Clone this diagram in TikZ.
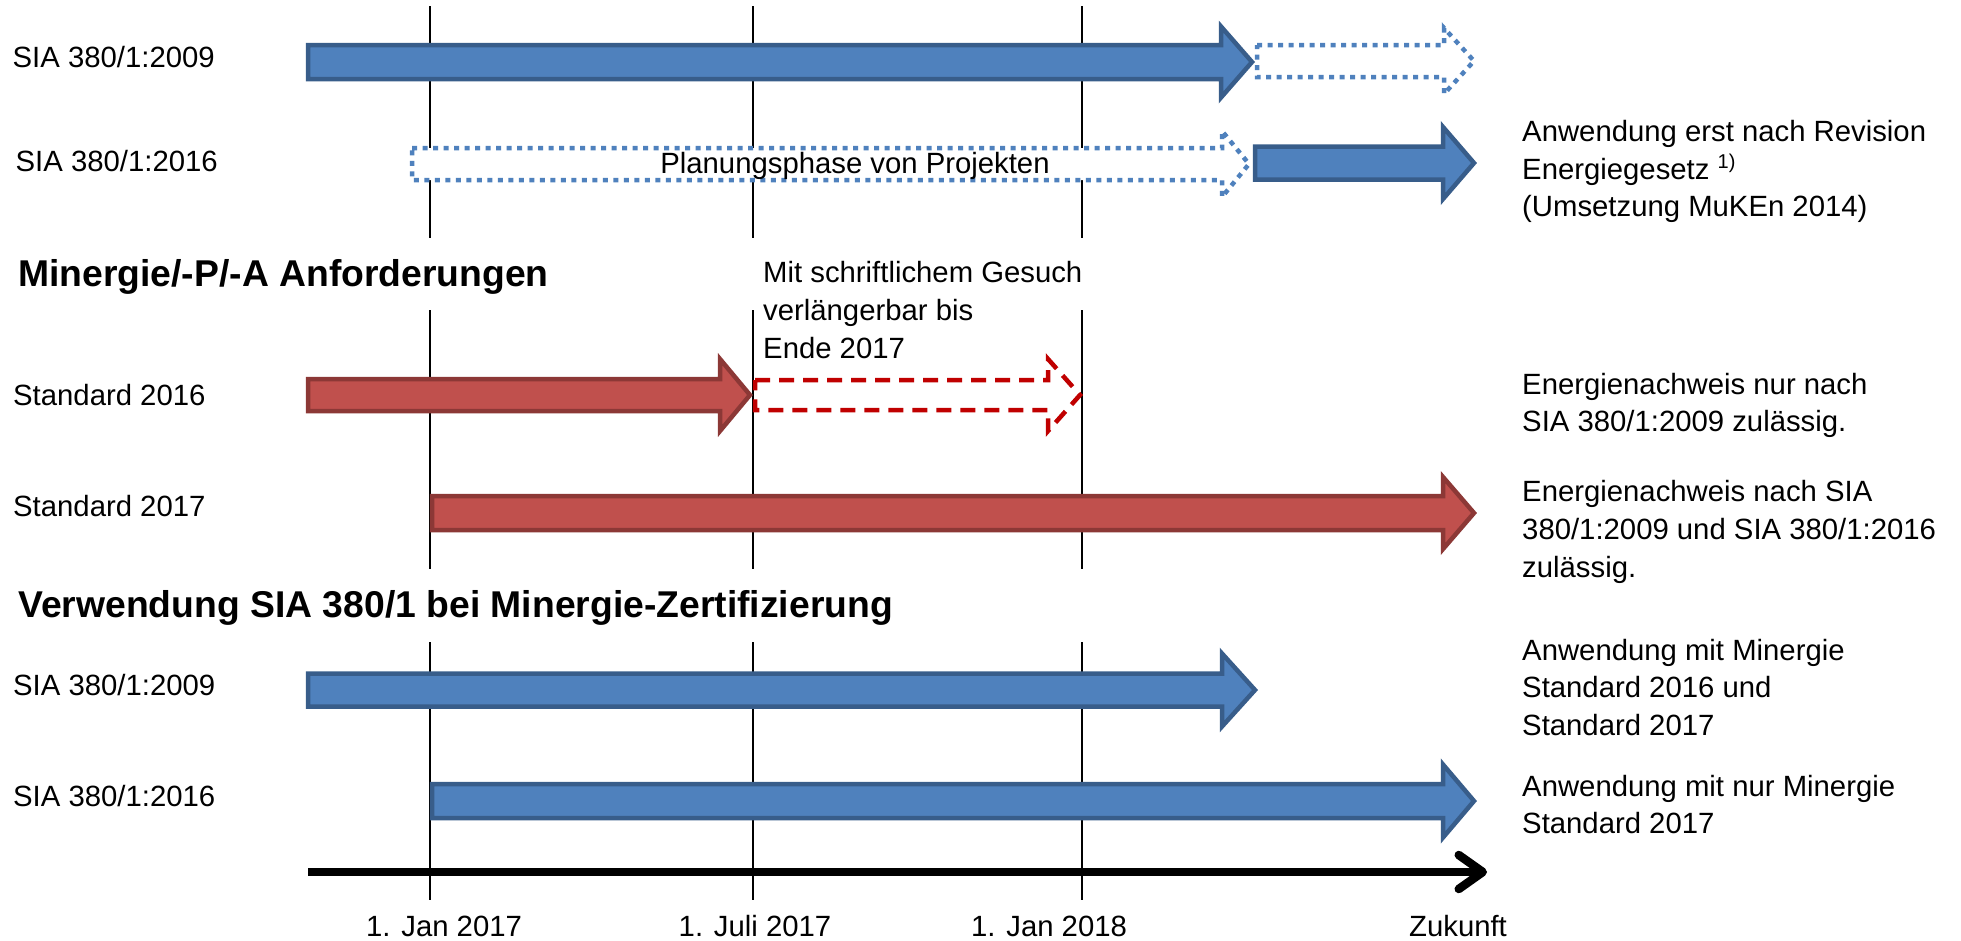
\documentclass[tikz,border=0pt]{standalone}
\usepackage{fontspec}
\setmainfont{Liberation Sans}
\usetikzlibrary{arrows.meta}
\definecolor{bfill}{HTML}{4F81BD}
\definecolor{bline}{HTML}{385D8A}
\definecolor{rfill}{HTML}{C0504D}
\definecolor{rline}{HTML}{8C3836}
\definecolor{rdash}{HTML}{C00000}
\newcommand\tlarrow[7]{\draw[#1] (#2,{#5-#6}) -- (#3,{#5-#6}) -- (#3,{#5-#7}) -- (#4,#5) -- (#3,{#5+#7}) -- (#3,{#5+#6}) -- (#2,{#5+#6}) -- cycle;}
\begin{document}
\begin{tikzpicture}[x=1pt,y=-1pt,
  lbl/.style={font=\fontsize{29.3}{37.5}\selectfont, inner sep=0pt, anchor=base west},
  datelbl/.style={font=\fontsize{29.3}{37.5}\selectfont, inner sep=0pt, anchor=base},
  hd/.style={font=\fontsize{37.3}{44}\selectfont\bfseries, inner sep=0pt, anchor=base west},
  bluearrow/.style={fill=bfill, draw=bline, line width=4.5pt, line join=miter},
  redarrow/.style={fill=rfill, draw=rline, line width=4.5pt, line join=miter},
  dotarrow/.style={fill=white, draw=bfill, line width=4.5pt, dash pattern=on 5pt off 5.5pt},
  dasharrow/.style={fill=white, draw=rdash, line width=4.5pt, dash pattern=on 15pt off 9pt},
  vline/.style={draw=black, line width=2pt},
  axis/.style={draw=black, line width=8.5pt, -{Straight Barb[length=24pt,width=34pt,line cap=round,line join=round]}}
]
\useasboundingbox (0,0) rectangle (1961,940);

% vertical date lines
\foreach \xx in {430,753,1082}{
  \draw[vline] (\xx,6) -- (\xx,238);
  \draw[vline] (\xx,310) -- (\xx,569);
  \draw[vline] (\xx,642) -- (\xx,900);
}

% SIA 380/1 rows
\tlarrow{dotarrow}{1257}{1444}{1474}{61}{16}{33}
\tlarrow{bluearrow}{308}{1221}{1252}{62}{17}{35.5}
\tlarrow{dotarrow}{412}{1222}{1249}{164}{16}{33}
\tlarrow{bluearrow}{1255}{1443}{1474}{163}{16.5}{36}
\node[font=\fontsize{29.3}{37.5}\selectfont, inner sep=0pt, anchor=base] (plan) at (855,173) {Planungsphase von Projekten};

% Minergie rows
\tlarrow{dasharrow}{755}{1048}{1080}{395}{15}{36}
\tlarrow{redarrow}{308}{720}{750}{395}{16}{36}
\tlarrow{redarrow}{432}{1443}{1474}{513}{17}{36}

% Verwendung rows
\tlarrow{bluearrow}{308}{1222}{1255}{690}{16.5}{36.5}
\tlarrow{bluearrow}{432}{1443}{1474}{801}{17}{36.5}

% time axis
\coordinate (ax0) at (308,872);
\coordinate (ax1) at (1487,872);
\draw[axis] (ax0) -- (ax1);

% left labels
\node[lbl] (l1) at (12.5,67) {SIA 380/1:2009};
\node[lbl] (l2) at (15.5,171) {SIA 380/1:2016};
\node[hd] (h1) at (18,286) {Minergie/-P/-A Anforderungen};
\node[lbl] (l3) at (13,405) {Standard 2016};
\node[lbl] (l4) at (13,516) {Standard 2017};
\node[hd] (h2) at (18,617) {Verwendung SIA 380/1 bei Minergie-Zertifizierung};
\node[lbl] (l5) at (13,695) {SIA 380/1:2009};
\node[lbl] (l6) at (13,806) {SIA 380/1:2016};

% extension note
\node[lbl] (m1) at (763,282) {Mit schriftlichem Gesuch};
\node[lbl] (m2) at (763,320) {verlängerbar bis};
\node[lbl] (m3) at (763,358) {Ende 2017};

% right column
\node[lbl] (r1a) at (1522,141) {Anwendung erst nach Revision};
\node[lbl] (r1b) at (1522,179) {Energiegesetz {\fontsize{20}{20}\selectfont\raisebox{11pt}{1)}}};
\node[lbl] (r1c) at (1522,216) {(Umsetzung MuKEn 2014)};
\node[lbl] (r2a) at (1522,394) {Energienachweis nur nach};
\node[lbl] (r2b) at (1522,431) {SIA 380/1:2009 zulässig.};
\node[lbl] (r3a) at (1522,501) {Energienachweis nach SIA};
\node[lbl] (r3b) at (1522,539) {380/1:2009 und SIA 380/1:2016};
\node[lbl] (r3c) at (1522,577) {zulässig.};
\node[lbl] (r4a) at (1522,660) {Anwendung mit Minergie};
\node[lbl] (r4b) at (1522,697) {Standard 2016 und};
\node[lbl] (r4c) at (1522,735) {Standard 2017};
\node[lbl] (r5a) at (1522,796) {Anwendung mit nur Minergie};
\node[lbl] (r5b) at (1522,833) {Standard 2017};

% date labels
\node[datelbl] (d1) at (444,936) {1. Jan 2017};
\node[datelbl] (d2) at (755,936) {1. Juli 2017};
\node[datelbl] (d3) at (1049,936) {1. Jan 2018};
\node[datelbl] (d4) at (1458,936) {Zukunft};
\end{tikzpicture}
\end{document}
